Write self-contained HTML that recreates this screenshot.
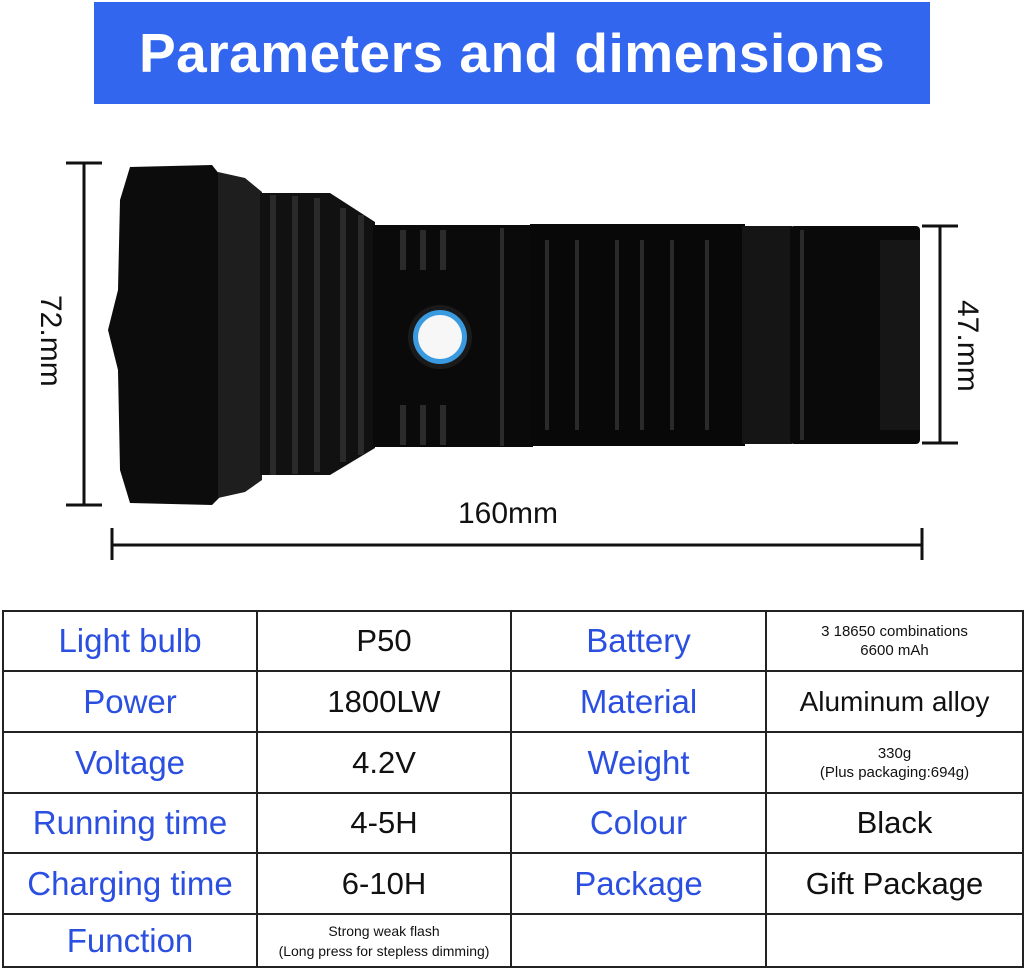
<!DOCTYPE html>
<html><head><style>
body{margin:0;width:1024px;height:969px;background:#fff;position:relative;overflow:hidden;font-family:"Liberation Sans",sans-serif}
.hdr{position:absolute;left:94px;top:2px;width:836px;height:102px;background:#3366ee;color:#fff;font-size:55px;text-align:center;line-height:102px;font-weight:bold;letter-spacing:0.5px}
table{position:absolute;left:2px;top:610px;border-collapse:collapse;width:1020px;table-layout:fixed}
td{border:2.5px solid #222;text-align:center;padding:0;font-size:31px;color:#111;line-height:34px;overflow:hidden}
td.b{color:#2b4fe0;font-size:33px}
td.s{font-size:14px;line-height:20px}
td.m{font-size:15px;line-height:19px}
.lbl{position:absolute;font-size:30px;color:#111}
</style></head><body>
<div class="hdr">Parameters and dimensions</div>
<svg style="position:absolute;left:0;top:0" width="1024" height="600">
<g stroke="#111" stroke-width="3">
<line x1="84" y1="163" x2="84" y2="505"/><line x1="66" y1="163" x2="102" y2="163"/><line x1="66" y1="505" x2="102" y2="505"/>
<line x1="940" y1="226" x2="940" y2="443"/><line x1="922" y1="226" x2="958" y2="226"/><line x1="922" y1="443" x2="958" y2="443"/>
<line x1="112" y1="545" x2="922" y2="545"/><line x1="112" y1="528" x2="112" y2="560"/><line x1="922" y1="528" x2="922" y2="560"/>
</g>
<path d="M130 167 L212 165 L220 175 L220 497 L212 505 L130 503 L120 470 L118 370 L108 330 L118 290 L120 200 Z" fill="#0c0c0c"/>
<path d="M218 172 L245 178 L262 192 L262 480 L245 492 L218 498 Z" fill="#1e1e1e"/>
<path d="M260 193 L330 193 L375 222 L375 448 L330 475 L260 475 Z" fill="#111"/>
<g fill="#2a2a2a"><rect x="270" y="195" width="6" height="280"/><rect x="292" y="196" width="6" height="278"/><rect x="314" y="198" width="6" height="274"/><rect x="340" y="208" width="6" height="254"/><rect x="358" y="215" width="6" height="240"/></g>
<rect x="373" y="225" width="160" height="222" fill="#0a0a0a"/>
<g fill="#2b2b2b"><rect x="400" y="230" width="6" height="40"/><rect x="420" y="230" width="6" height="40"/><rect x="440" y="230" width="6" height="40"/><rect x="400" y="405" width="6" height="40"/><rect x="420" y="405" width="6" height="40"/><rect x="440" y="405" width="6" height="40"/><rect x="500" y="228" width="4" height="218"/></g>
<rect x="530" y="224" width="215" height="222" fill="#080808"/>
<g fill="#2a2a2a"><rect x="545" y="240" width="4" height="190"/><rect x="575" y="240" width="4" height="190"/><rect x="615" y="240" width="4" height="190"/><rect x="640" y="240" width="4" height="190"/><rect x="670" y="240" width="4" height="190"/><rect x="705" y="240" width="4" height="190"/></g>
<rect x="742" y="226" width="50" height="218" fill="#151515"/>
<rect x="790" y="226" width="130" height="218" rx="4" fill="#0a0a0a"/>
<rect x="800" y="230" width="4" height="210" fill="#2a2a2a"/><rect x="880" y="240" width="40" height="190" fill="#161616"/>
<circle cx="440" cy="337" r="32" fill="#1a1a1a"/>
<circle cx="440" cy="337" r="27" fill="#3a9ae0"/>
<circle cx="440" cy="337" r="22" fill="#f7f7f7"/>
</svg>
<div class="lbl" style="left:15px;top:313px;transform:rotate(90deg);transform-origin:center;width:70px;text-align:center">72.mm</div>
<div class="lbl" style="left:932px;top:318px;transform:rotate(90deg);transform-origin:center;width:70px;text-align:center">47.mm</div>
<div class="lbl" style="left:458px;top:497px">160mm</div>
<table>
<colgroup><col style="width:254px"><col style="width:254px"><col style="width:255px"><col style="width:257px"></colgroup>
<tr style="height:60px"><td class="b">Light bulb</td><td>P50</td><td class="b">Battery</td><td class="m">3 18650 combinations<br>6600 mAh</td></tr>
<tr style="height:61px"><td class="b">Power</td><td>1800LW</td><td class="b">Material</td><td style="font-size:28px">Aluminum alloy</td></tr>
<tr style="height:61px"><td class="b">Voltage</td><td>4.2V</td><td class="b">Weight</td><td class="m">330g<br>(Plus packaging:694g)</td></tr>
<tr style="height:60px"><td class="b">Running time</td><td>4-5H</td><td class="b">Colour</td><td>Black</td></tr>
<tr style="height:61px"><td class="b">Charging time</td><td>6-10H</td><td class="b">Package</td><td>Gift Package</td></tr>
<tr style="height:53px"><td class="b">Function</td><td class="s">Strong weak flash<br>(Long press for stepless dimming)</td><td></td><td></td></tr>
</table>
</body></html>
